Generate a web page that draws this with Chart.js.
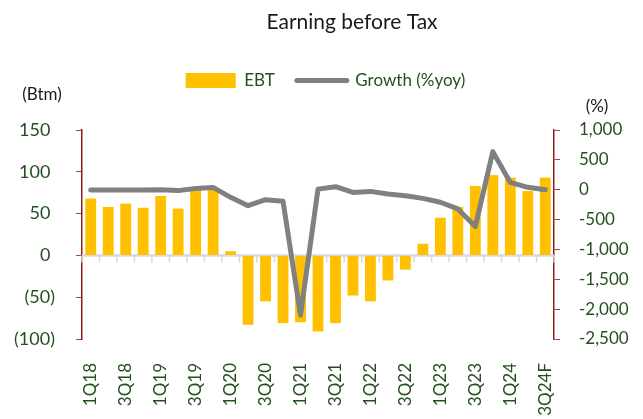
<!DOCTYPE html>
<html>
<head>
<meta charset="utf-8">
<script src="https://cdn.jsdelivr.net/npm/chart.js@4.4.1/dist/chart.umd.min.js"></script>
<style>
  html, body { margin: 0; padding: 0; background: #fff; }
  #wrap { position: relative; width: 643px; height: 419px; }
</style>
</head>
<body>
<div id="wrap"><canvas id="ebt-chart"></canvas></div>
<script>
const quarters = [
  '1Q18', '2Q18', '3Q18', '4Q18', '1Q19', '2Q19', '3Q19', '4Q19',
  '1Q20', '2Q20', '3Q20', '4Q20', '1Q21', '2Q21', '3Q21', '4Q21',
  '1Q22', '2Q22', '3Q22', '4Q22', '1Q23', '2Q23', '3Q23', '4Q23',
  '1Q24', '2Q24', '3Q24F'
]
// EBT (Btm)
const ebt = [
  68, 58, 62, 57, 71, 56, 78, 80,
  5, -83, -55, -81, -80, -91, -81, -48,
  -55, -30, -17, 14, 45, 58, 83, 96,
  93, 77, 93
]
// Growth (%yoy)
const growth = [
  -4, -5, -5, -3, -2, -15, 20, 38,
  -128, -267, -167, -195, -2100, 10, 50, -45,
  -28, -72, -100, -145, -210, -322, -617, 638,
  122, 40, 0
]
const btmTicks = { min: -100, max: 150, step: 50 }
const pctTicks = { min: -2500, max: 1000, step: 500 }

const GREEN = '#24501f'
const AXIS_RED = '#8b1c1c'
const FONT = 'Lato'

// zero line with category tick marks, drawn under the bars
const zeroLine = {
  id: 'zeroLine',
  beforeDatasetsDraw(chart) {
    const { ctx, chartArea, scales: { x, y } } = chart
    const y0 = y.getPixelForValue(0)
    const step = x.getPixelForValue(1) - x.getPixelForValue(0)
    ctx.save()
    ctx.strokeStyle = '#d9d9d9'
    ctx.lineWidth = 2.5
    ctx.beginPath()
    ctx.moveTo(chartArea.left, y0)
    ctx.lineTo(chartArea.right, y0)
    ctx.stroke()
    ctx.lineWidth = 1.5
    for (let i = 0; i <= quarters.length; i++) {
      const px = x.getPixelForValue(i) - step / 2
      ctx.beginPath()
      ctx.moveTo(px, y0)
      ctx.lineTo(px, y0 + 7)
      ctx.stroke()
    }
    ctx.restore()
  }
}

// title and unit labels
const headerText = {
  id: 'headerText',
  afterDraw(chart) {
    const { ctx } = chart
    ctx.save()
    ctx.textBaseline = 'middle'
    ctx.textAlign = 'center'
    ctx.fillStyle = '#1a1a1a'
    ctx.font = `21px ${FONT}`
    ctx.fillText('Earning before Tax', 352, 22)
    ctx.font = `17px ${FONT}`
    ctx.fillText('(Btm)', 42, 95)
    ctx.fillText('(%)', 597, 107)
    ctx.restore()
  }
}

// extra space under the legend
const legendGap = {
  id: 'legendGap',
  beforeInit(chart) {
    const fit = chart.legend.fit
    chart.legend.fit = function () {
      fit.call(this)
      this.height += 31
    }
  }
}

const ctx = document.getElementById('ebt-chart').getContext('2d')
new Chart(ctx, {
  data: {
    labels: quarters,
    datasets: [
      {
        type: 'line',
        label: 'Growth (%yoy)',
        data: growth,
        yAxisID: 'y1',
        borderColor: '#808080',
        backgroundColor: '#808080',
        borderWidth: 5,
        pointRadius: 0,
        tension: 0,
        borderJoinStyle: 'round',
        borderCapStyle: 'round',
        order: 0
      },
      {
        type: 'bar',
        label: 'EBT',
        data: ebt,
        yAxisID: 'y',
        backgroundColor: '#ffc000',
        borderWidth: 0,
        categoryPercentage: 1,
        barPercentage: 0.62,
        order: 1
      }
    ]
  },
  options: {
    responsive: true,
    maintainAspectRatio: false,
    animation: false,
    layout: { padding: { top: 50, left: 8, right: 0, bottom: 0 } },
    plugins: {
      title: { display: false },
      tooltip: { enabled: false },
      legend: {
        display: true,
        position: 'top',
        labels: {
          color: GREEN,
          font: { size: 17, family: FONT },
          usePointStyle: true,
          pointStyleWidth: 50,
          boxHeight: 15,
          padding: 22,
          generateLabels(chart) {
            return chart.data.datasets.map((ds, i) => ({
              text: ds.label,
              fillStyle: ds.type === 'bar' ? ds.backgroundColor : 'rgba(0,0,0,0)',
              strokeStyle: ds.type === 'bar' ? ds.backgroundColor : ds.borderColor,
              lineWidth: ds.type === 'bar' ? 0 : 5,
              lineCap: 'round',
              fontColor: GREEN,
              pointStyle: ds.type === 'bar' ? 'rect' : 'line',
              datasetIndex: i
            })).reverse()
          }
        }
      }
    },
    scales: {
      x: {
        grid: { display: false },
        border: { display: false },
        afterFit(scale) { scale.height = 80 },
        ticks: {
          autoSkip: false,
          minRotation: 90,
          maxRotation: 90,
          padding: 16,
          color: GREEN,
          font: { size: 17, family: FONT },
          callback: (v, i) => (i % 2 === 0 ? quarters[i] : '')
        }
      },
      y: {
        position: 'left',
        min: btmTicks.min,
        max: btmTicks.max,
        afterFit(scale) { scale.width = 74 },
        border: { display: true, color: AXIS_RED, width: 1.5 },
        grid: { drawOnChartArea: false, drawTicks: true, tickLength: 6, tickColor: '#b04040' },
        ticks: {
          stepSize: btmTicks.step,
          padding: 21,
          color: GREEN,
          font: { size: 18, family: FONT },
          callback: v => (v < 0 ? `(${Math.abs(v)})` : `${v} `)
        }
      },
      y1: {
        position: 'right',
        min: pctTicks.min,
        max: pctTicks.max,
        afterFit(scale) { scale.width = 89 },
        border: { display: true, color: AXIS_RED, width: 1.5 },
        grid: { drawOnChartArea: false, drawTicks: true, tickLength: 6, tickColor: '#b04040' },
        ticks: {
          stepSize: pctTicks.step,
          padding: 19,
          color: GREEN,
          font: { size: 17, family: FONT },
          callback: v => v.toLocaleString('en-US')
        }
      }
    }
  },
  plugins: [zeroLine, headerText, legendGap]
})
</script>
</body>
</html>
